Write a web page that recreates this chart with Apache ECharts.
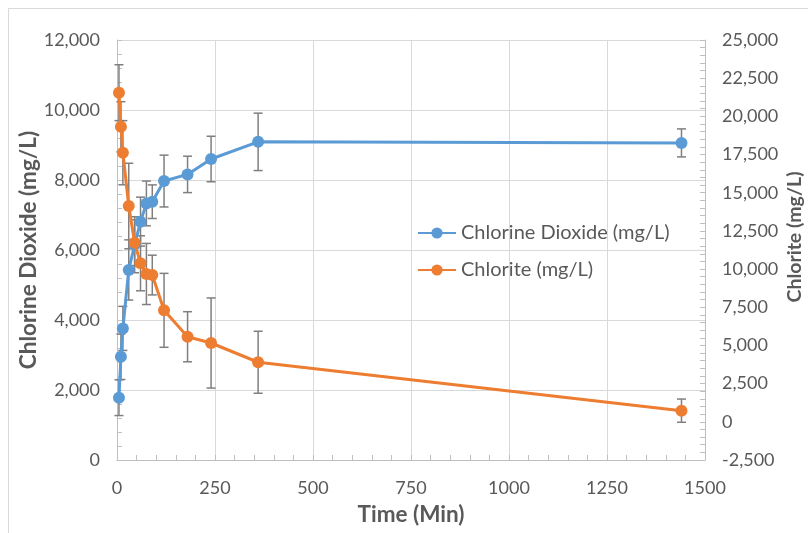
<!DOCTYPE html>
<html>
<head>
<meta charset="utf-8">
<script src="https://cdn.jsdelivr.net/npm/echarts@6/dist/echarts.min.js"></script>
<style>
html,body{margin:0;padding:0;background:#fff;}
#c{width:808px;height:533px;}
</style>
</head>
<body>
<div id="c"></div>
<script>
const times = [5, 10, 15, 30, 45, 60, 75, 90, 120, 180, 240, 360, 1440];
const chlorineDioxide = [1780, 2950, 3760, 5430, 6150, 6810, 7330, 7380, 7970, 8160, 8600, 9090, 9060];
const chlorineDioxideErr = [510, 650, 630, 860, 800, 700, 640, 480, 740, 520, 650, 820, 400];
const chlorite = [21550, 19320, 17620, 14130, 11730, 10380, 9680, 9610, 7300, 5570, 5160, 3900, 730];
const chloriteErr = [1830, 1640, 2100, 2800, 1500, 1800, 2000, 1300, 2420, 1640, 2950, 2030, 760];
const seriesNames = ['Chlorine Dioxide (mg/L)', 'Chlorite (mg/L)'];

const FONT = 'Lato';
const TXT = '#595959';
const fmt = v => v.toLocaleString('en-US');
const plain = v => String(v);

function pairs(vals){ return times.map((t,i)=>[t, vals[i]]); }
function errData(vals, errs){ return times.map((t,i)=>[t, vals[i]-errs[i], vals[i]+errs[i]]); }
function errRender(params, api){
  const x = api.value(0);
  const p1 = api.coord([x, api.value(1)]);
  const p2 = api.coord([x, api.value(2)]);
  const w = 4.5;
  const st = {stroke:'#7f7f7f', lineWidth:1.5};
  return {type:'group', children:[
    {type:'line', shape:{x1:p1[0],y1:p1[1],x2:p2[0],y2:p2[1]}, style:st},
    {type:'line', shape:{x1:p1[0]-w,y1:p1[1],x2:p1[0]+w,y2:p1[1]}, style:st},
    {type:'line', shape:{x1:p2[0]-w,y1:p2[1],x2:p2[0]+w,y2:p2[1]}, style:st}
  ]};
}

const axisLine = {show:true, lineStyle:{color:'#bfbfbf', width:1}};
const tick = {show:true, inside:true, length:5, lineStyle:{color:'#bfbfbf'}};
const minor = {show:true, splitNumber:5, length:5, lineStyle:{color:'#bfbfbf'}};
const label = {color:TXT, fontFamily:FONT, fontSize:18};
const nameStyle = {color:TXT, fontFamily:FONT, fontSize:22.5, fontWeight:'bold'};
const nameStyleR = {color:TXT, fontFamily:FONT, fontSize:19.5, fontWeight:'bold', padding:[0,0,0,26]};

const chart = echarts.init(document.getElementById('c'), null, {renderer:'canvas'});
chart.setOption({
  animation:false,
  backgroundColor:'#fff',
  graphic:[{type:'rect', shape:{x:8.5,y:8.5,width:820,height:540}, style:{fill:'none', stroke:'#d9d9d9', lineWidth:1}, silent:true}],
  grid:{left:117, top:40, width:588, height:420, outerBoundsMode:'none', containLabel:false},
  legend:{
    data:seriesNames, orient:'vertical', left:412, top:218, itemWidth:38, itemHeight:14, itemGap:17,
    textStyle:{color:TXT, fontFamily:FONT, fontSize:20, lineHeight:20}
  },
  xAxis:{
    type:'value', min:0, max:1500, interval:250,
    name:'Time (Min)', nameLocation:'middle', nameGap:43, nameMoveOverlap:false, nameTextStyle:nameStyle,
    axisLine:axisLine, axisTick:tick, minorTick:minor,
    axisLabel:Object.assign({margin:19, formatter:plain}, label),
    splitLine:{show:true, lineStyle:{color:'#d9d9d9'}}
  },
  yAxis:[{
    type:'value', min:0, max:12000, interval:2000, position:'left',
    name:'Chlorine Dioxide (mg/L)', nameLocation:'middle', nameGap:77, nameMoveOverlap:false, nameTextStyle:nameStyle,
    axisLine:axisLine, axisTick:tick, minorTick:minor,
    axisLabel:Object.assign({margin:17, formatter:fmt}, label),
    splitLine:{show:true, lineStyle:{color:'#d9d9d9'}}
  },{
    type:'value', min:-2500, max:25000, interval:2500, position:'right',
    name:'Chlorite (mg/L)', nameLocation:'middle', nameGap:80, nameMoveOverlap:false, nameTextStyle:nameStyleR,
    axisLine:axisLine, axisTick:tick, minorTick:minor,
    axisLabel:Object.assign({margin:17, formatter:fmt}, label),
    splitLine:{show:false}
  }],
  series:[
    {type:'custom', yAxisIndex:0, renderItem:errRender, data:errData(chlorineDioxide, chlorineDioxideErr), z:1, silent:true},
    {type:'custom', yAxisIndex:1, renderItem:errRender, data:errData(chlorite, chloriteErr), z:1, silent:true},
    {name:seriesNames[0], type:'line', yAxisIndex:0, data:pairs(chlorineDioxide), symbol:'circle', symbolSize:12,
     itemStyle:{color:'#5b9bd5'}, lineStyle:{color:'#5b9bd5', width:3}, z:3},
    {name:seriesNames[1], type:'line', yAxisIndex:1, data:pairs(chlorite), symbol:'circle', symbolSize:12,
     itemStyle:{color:'#ed7d31'}, lineStyle:{color:'#ed7d31', width:3}, z:4}
  ]
});
</script>
</body>
</html>
